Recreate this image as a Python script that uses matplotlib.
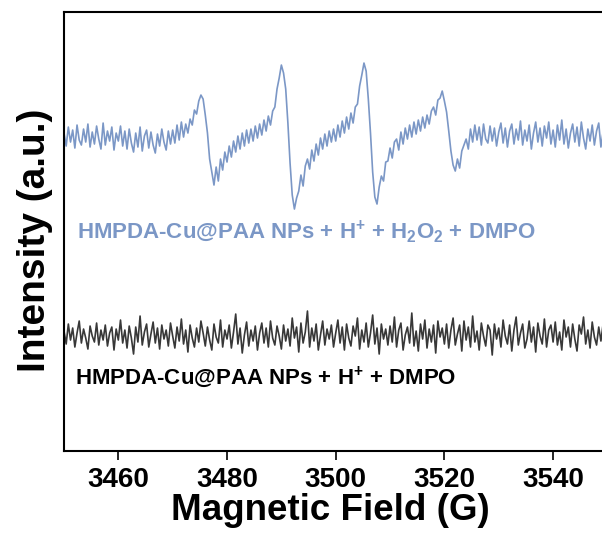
import numpy as np
import matplotlib
matplotlib.use("Agg")
import matplotlib.pyplot as plt

plt.rcParams['font.family'] = ['Liberation Sans', 'DejaVu Sans']
plt.rcParams['font.weight'] = 'bold'
plt.rcParams['mathtext.fontset'] = 'custom'
plt.rcParams['mathtext.rm'] = 'Liberation Sans:bold'
plt.rcParams['mathtext.bf'] = 'Liberation Sans:bold'

# field sampling: start 3450 G, 0.4 G per point
field_start = 3450.0
field_step = 0.4

# HMPDA-Cu@PAA NPs + H+ + H2O2 + DMPO (DMPO-OH quartet)
epr_h2o2 = [
    318, 305, 324, 309, 321, 303, 326, 311, 306, 322, 309, 327, 304, 319, 307, 325, 312, 302, 328, 306, 320, 310, 324, 301, 318,
    310, 325, 305, 320, 302, 322, 308, 299, 318, 304, 324, 300, 315, 321, 303, 319, 306, 298, 317, 305, 322, 309, 301, 320, 307,
    321, 308, 326, 311, 329, 314, 327, 318, 332, 326, 341, 337, 350, 356, 352, 336, 318, 292, 279, 266, 284, 270, 292, 281, 299,
    289, 305, 294, 310, 299, 315, 302, 318, 305, 321, 308, 322, 310, 325, 313, 327, 316, 331, 320, 335, 326, 340, 344, 362, 373,
    386, 378, 362, 328, 288, 256, 242, 253, 260, 276, 265, 285, 292, 282, 301, 290, 307, 296, 313, 302, 317, 305, 320, 309, 322,
    310, 326, 314, 330, 318, 334, 322, 338, 328, 344, 347, 365, 376, 388, 380, 352, 318, 279, 254, 247, 264, 275, 270, 289, 290,
    303, 293, 309, 312, 301, 319, 307, 323, 312, 326, 314, 329, 317, 331, 320, 334, 323, 336, 327, 340, 344, 336, 351, 353, 360,
    350, 339, 320, 300, 286, 280, 292, 283, 300, 306, 312, 302, 322, 309, 326, 311, 324, 306, 327, 312, 308, 325, 310, 323, 305,
    319, 328, 308, 323, 304, 320, 327, 307, 322, 311, 330, 306, 321, 310, 326, 302, 318, 329, 309, 323, 305, 325, 313, 329, 307,
    321, 304, 326, 311, 331, 307, 322, 303, 318, 327, 309, 324, 305, 329, 313, 302, 322, 310, 326, 306, 320, 328, 304, 319, 312,
    323, 308, 325, 313, 321,
]

# HMPDA-Cu@PAA NPs + H+ + DMPO (no signal, only noise)
epr_ctrl = [
    120, 107, 127, 111, 123, 104, 118, 130, 108, 122, 113, 102, 125, 115, 109, 128, 106, 121, 111, 126, 105, 118, 124, 101, 122,
    111, 131, 108, 121, 103, 125, 113, 97, 124, 109, 135, 106, 119, 127, 104, 117, 129, 108, 123, 102, 126, 112, 121, 105, 128,
    115, 103, 124, 110, 132, 107, 121, 99, 126, 113, 104, 123, 109, 130, 118, 105, 124, 111, 101, 127, 114, 108, 131, 104, 121,
    112, 126, 103, 119, 137, 107, 123, 98, 116, 129, 105, 121, 110, 125, 101, 118, 128, 108, 123, 104, 130, 113, 106, 125, 115,
    102, 126, 110, 122, 105, 133, 113, 124, 99, 128, 108, 119, 140, 104, 123, 110, 127, 101, 116, 130, 106, 122, 112, 126, 104,
    118, 131, 108, 124, 101, 127, 113, 105, 125, 115, 133, 102, 121, 109, 128, 104, 118, 136, 107, 123, 97, 127, 112, 122, 106,
    125, 109, 134, 104, 121, 128, 101, 116, 124, 108, 138, 105, 120, 100, 127, 112, 131, 103, 122, 109, 126, 98, 130, 114, 123,
    107, 127, 103, 121, 133, 106, 117, 126, 100, 130, 111, 124, 104, 135, 109, 120, 101, 128, 115, 105, 126, 121, 96, 127, 112,
    123, 104, 131, 115, 107, 126, 100, 121, 134, 106, 118, 127, 103, 112, 130, 109, 124, 99, 128, 115, 107, 132, 104, 121, 126,
    109, 129, 106, 119, 101, 131, 114, 124, 104, 127, 112, 100, 126, 117, 134, 107, 121, 103, 129, 114, 106, 124, 110, 127, 118,
    112, 126, 106, 121, 115,
]

label_h2o2 = r'HMPDA-Cu@PAA NPs + H$^{+}$ + H$_{2}$O$_{2}$ + DMPO'
label_ctrl = r'HMPDA-Cu@PAA NPs + H$^{+}$ + DMPO'
xticks = [3460, 3480, 3500, 3520, 3540]

blue = '#7b97c6'
dark = '#383838'

field_a = field_start + field_step * np.arange(len(epr_h2o2))
field_b = field_start + field_step * np.arange(len(epr_ctrl))

fig = plt.figure(figsize=(6.02, 5.33), dpi=100)
ax = fig.add_axes([0.1063, 0.1538, 0.993, 0.8236])

ax.plot(field_a, epr_h2o2, color=blue, lw=1.2)
ax.plot(field_b, epr_ctrl, color=dark, lw=1.2)

ax.set_xlim(3450, 3560)
ax.set_ylim(0, 439)
ax.set_xticks(xticks)
ax.set_yticks([])
ax.tick_params(axis='x', direction='out', length=6.5, width=1.2, labelsize=20, pad=5)
for s in ax.spines.values():
    s.set_linewidth(1.5)

ax.set_xlabel('Magnetic Field (G)', fontsize=26.5, fontweight='bold')
ax.xaxis.set_label_coords(0.445, -0.096)
ax.xaxis.label.set_va('top')
ax.set_ylabel('Intensity (a.u.)', fontsize=28, fontweight='bold')
ax.yaxis.set_label_coords(-0.0184, 0.48)

ax.text(3452.4, 213, label_h2o2, color=blue, fontsize=16, fontweight='bold', va='baseline')
ax.text(3452.0, 67, label_ctrl, color='black', fontsize=16, fontweight='bold', va='baseline')

fig.savefig('out.png', dpi=100)
